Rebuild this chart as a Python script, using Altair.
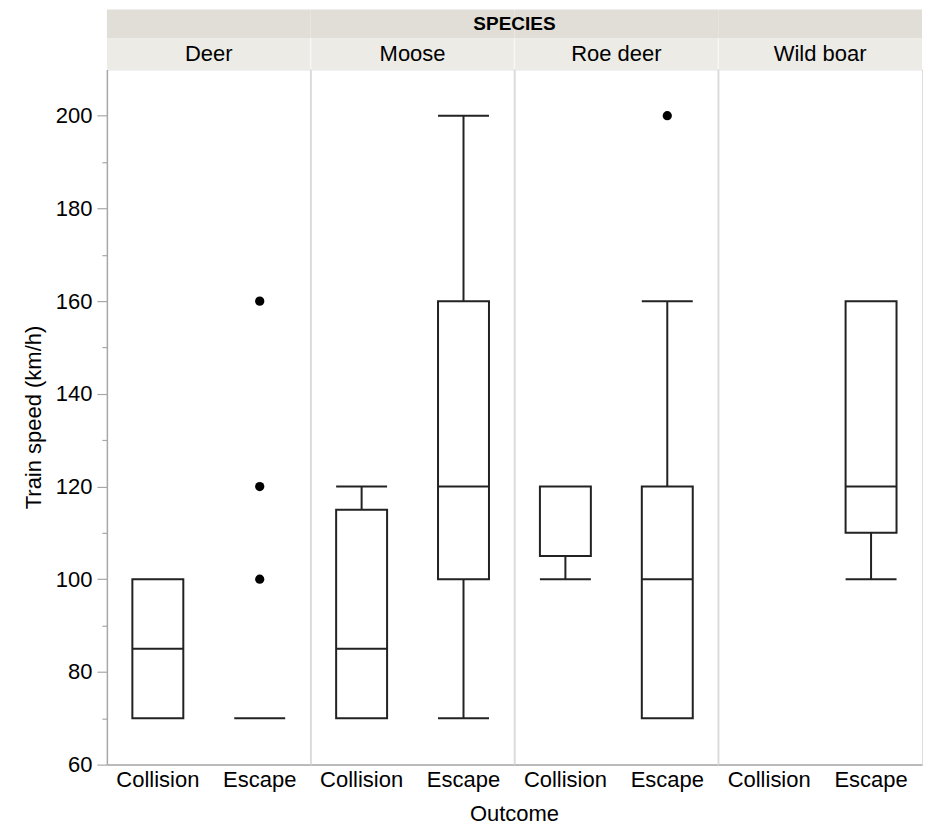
import altair as alt
import pandas as pd

species = ["Deer", "Moose", "Roe deer", "Wild boar"]
outcomes = ["Collision", "Escape"]

box_species = ["Deer", "Deer", "Moose", "Moose", "Roe deer", "Roe deer", "Wild boar"]
box_outcome = ["Collision", "Escape", "Collision", "Escape", "Collision", "Escape", "Escape"]
whisker_low = [70, 70, 70, 70, 100, 70, 100]
q1 = [70, 70, 70, 100, 105, 70, 110]
median = [85, 70, 85, 120, 120, 100, 120]
q3 = [100, 70, 115, 160, 120, 120, 160]
whisker_high = [100, 70, 120, 200, 120, 160, 160]

out_species = ["Deer", "Deer", "Deer", "Roe deer"]
out_outcome = ["Escape", "Escape", "Escape", "Escape"]
out_speed = [100, 120, 160, 200]

box_df = pd.DataFrame({
    "species": box_species, "outcome": box_outcome,
    "lo": whisker_low, "q1": q1, "med": median, "q3": q3, "hi": whisker_high,
})
out_df = pd.DataFrame({"species": out_species, "outcome": out_outcome, "speed": out_speed})
one = pd.DataFrame({"a": [0]})

W = 204
H = 696
FONT = "Liberation Sans"
LINE = "#222222"
AXISGRAY = "#a8a8a8"


def panel(i, sp):
    bdf = box_df[box_df["species"] == sp]
    odf = out_df[out_df["species"] == sp]
    xs = alt.Scale(domain=outcomes, paddingInner=0.5, paddingOuter=0.25)
    x_enc = alt.X("outcome:N", scale=xs, sort=outcomes,
                  axis=alt.Axis(title=None, labelAngle=0, labelFontSize=22, ticks=False,
                                domainColor=AXISGRAY, domainWidth=1.5, labelPadding=5,
                                labelColor="black", labelFont=FONT))
    ys = alt.Scale(domain=[60, 210], nice=False, zero=False)
    if i == 0:
        yax = alt.Axis(title="Train speed (km/h)", values=list(range(60, 210, 10)),
                       labelExpr="datum.value % 20 === 0 ? datum.label : ''",
                       tickSize={"condition": {"test": "datum.value % 20 === 0", "value": 10}, "value": 5},
                       tickColor=AXISGRAY, tickWidth=1.2, domainColor=AXISGRAY, domainWidth=1.5,
                       labelFontSize=22, labelColor="black", labelFont=FONT, labelPadding=5,
                       titleFontSize=22, titleFontWeight="normal", titleColor="black",
                       titleFont=FONT, titlePadding=10, grid=False)
    else:
        yax = None

    def Y(f):
        return alt.Y(f"{f}:Q", scale=ys, axis=yax)

    layers = []
    layers.append(alt.Chart(one).mark_rect(color="#e0ded6").encode(
        x=alt.value(0), x2=alt.value(W), y=alt.value(-60), y2=alt.value(-31)))
    layers.append(alt.Chart(one).mark_rect(color="#ecebe6").encode(
        x=alt.value(0), x2=alt.value(W), y=alt.value(-31), y2=alt.value(0)))
    layers.append(alt.Chart(one).mark_text(text=sp, fontSize=22, font=FONT, color="black",
                                           baseline="middle", align="center").encode(
        x=alt.value(W / 2), y=alt.value(-15)))
    if i > 0:
        layers.append(alt.Chart(one).mark_rule(color="#f7f7f5", strokeWidth=1.5).encode(
            x=alt.value(0), y=alt.value(-31), y2=alt.value(0)))
        layers.append(alt.Chart(one).mark_rule(color="#dcdcdc", strokeWidth=1.5).encode(
            x=alt.value(0), y=alt.value(0), y2=alt.value(H)))
    if i == 2:
        layers.append(alt.Chart(one).mark_text(text="SPECIES", fontSize=19, fontWeight="bold",
                                               font=FONT, color="black", baseline="middle",
                                               align="center").encode(
            x=alt.value(0), y=alt.value(-45)))
        layers.append(alt.Chart(one).mark_text(text="Outcome", fontSize=22, font=FONT,
                                               color="black", baseline="middle",
                                               align="center").encode(
            x=alt.value(0), y=alt.value(H + 49)))

    base = alt.Chart(bdf)
    layers.append(base.mark_rule(color=LINE, strokeWidth=2).encode(x=x_enc, y=Y("lo"), y2="q1"))
    layers.append(base.mark_rule(color=LINE, strokeWidth=2).encode(x=x_enc, y=Y("q3"), y2="hi"))
    layers.append(base.mark_bar(fill="white", stroke=LINE, strokeWidth=2).encode(
        x=x_enc, y=Y("q1"), y2="q3"))
    tick = dict(color=LINE, size=51, thickness=2, opacity=1)
    layers.append(base.transform_filter("datum.med > datum.q1 && datum.med < datum.q3")
                  .mark_tick(**tick).encode(x=x_enc, y=Y("med")))
    layers.append(base.transform_filter("datum.lo < datum.q1")
                  .mark_tick(**tick).encode(x=x_enc, y=Y("lo")))
    layers.append(base.transform_filter("datum.hi > datum.q3")
                  .mark_tick(**tick).encode(x=x_enc, y=Y("hi")))
    if len(odf):
        layers.append(alt.Chart(odf).mark_point(filled=True, color="black", size=85,
                                                shape="circle", opacity=1).encode(
            x=x_enc, y=Y("speed")))
    return alt.layer(*layers).properties(width=W, height=H)


chart = alt.hconcat(*[panel(i, s) for i, s in enumerate(species)], spacing=0, bounds="flush")
chart = chart.properties(padding={"left": 13, "top": 0, "right": 0, "bottom": 0}).configure_view(
    stroke=None).configure(font=FONT)

chart.save("out.html", embed_options={"renderer": "svg", "actions": False})
